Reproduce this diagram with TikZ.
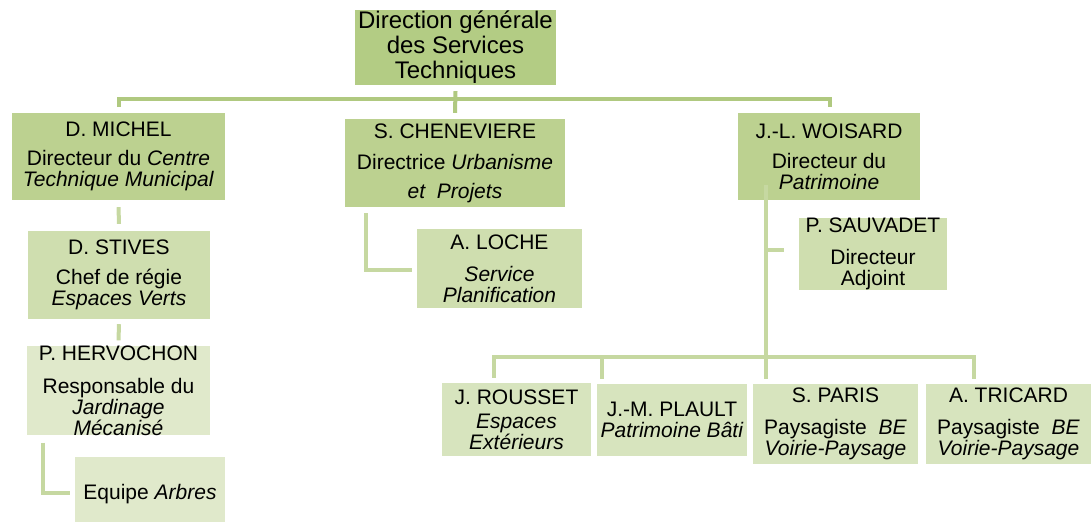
\documentclass[tikz,border=0pt]{standalone}
\usepackage{fontspec}
\setmainfont{Liberation Sans}
\usetikzlibrary{calc}
\definecolor{gTop}{HTML}{B3CC84}
\definecolor{gTwo}{HTML}{BCD190}
\definecolor{gThree}{HTML}{CFDEAF}
\definecolor{gFour}{HTML}{E0E9CB}
\definecolor{gFive}{HTML}{D7E4BE}
\definecolor{cTop}{HTML}{B0C980}
\definecolor{cLine}{HTML}{C6D8A1}
\tikzset{
  box/.style={fill=#1, inner sep=0pt, align=center, text=black,
    font=\fontsize{21}{21}\selectfont},
  topconn/.style={draw=cTop, line width=4pt},
  conn/.style={draw=cLine, line width=4pt},
}
\begin{document}
\begin{tikzpicture}[x=1pt,y=-1pt]
\useasboundingbox (0,0) rectangle (1092,522);
% boxes
\node[box=gTop, minimum width=201pt, minimum height=75pt, font=\fontsize{24}{25}\selectfont] (dg) at (455.5,47.5) {Direction générale\\des Services\\Techniques};
\node[box=gTwo, minimum width=213pt, minimum height=87pt] (michel) at (118.5,156.5) {D. MICHEL\\[8pt]Directeur du \textit{Centre}\\\textit{Technique Municipal}};
\node[box=gTwo, minimum width=220pt, minimum height=88pt] (chen) at (455,163) {S. CHENEVIERE\\[10pt]Directrice \textit{Urbanisme}\\[8pt]\textit{et\ \ Projets}};
\node[box=gTwo, minimum width=182pt, minimum height=87pt] (wois) at (829,156.5) {J.-L. WOISARD\\[9pt]Directeur du\\\textit{Patrimoine}};
\node[box=gThree, minimum width=182pt, minimum height=88pt] (stives) at (119,275) {D. STIVES\\[9pt]Chef de régie\\\textit{Espaces Verts}};
\node[box=gFour, minimum width=183pt, minimum height=89pt] (herv) at (118.5,390.5) {P. HERVOCHON\\[12pt]Responsable du\\\textit{Jardinage}\\\textit{Mécanisé}};
\node[box=gFour, minimum width=150pt, minimum height=65pt] (equipe) at (150,489.5) {\raisebox{-5pt}[\height][\depth]{Equipe \textit{Arbres}}};
\node[box=gThree, minimum width=165pt, minimum height=79pt] (loche) at (499.5,268.5) {A. LOCHE\\[11pt]\textit{Service}\\\textit{Planification}};
\node[box=gThree, minimum width=148pt, minimum height=72pt] (sauv) at (873,254) {P. SAUVADET\\[11pt]Directeur\\Adjoint};
\node[box=gFive, minimum width=149pt, minimum height=73pt] (rousset) at (516.5,419.5) {J. ROUSSET\\[3pt]\textit{Espaces}\\\textit{Extérieurs}};
\node[box=gFive, minimum width=150pt, minimum height=72pt] (plault) at (672,420) {J.-M. PLAULT\\\textit{Patrimoine Bâti}};
\node[box=gFive, minimum width=165pt, minimum height=80pt] (paris) at (835.5,424) {S. PARIS\\[11pt]Paysagiste\ \ \textit{BE}\\\textit{Voirie-Paysage}};
\node[box=gFive, minimum width=165pt, minimum height=80pt] (tricard) at (1008.5,424) {A. TRICARD\\[11pt]Paysagiste\ \ \textit{BE}\\\textit{Voirie-Paysage}};
% top level connectors
\coordinate (bar) at (455.5,99);
\draw[topconn] ([yshift=6pt]michel.north) |- (bar) -| ([xshift=1pt,yshift=6pt]wois.north);
\draw[topconn] ([yshift=-6pt]dg.south) -- ([yshift=6pt]chen.north);
% left column
\draw[conn] ([yshift=-7pt]michel.south) -- ([yshift=7pt]stives.north);
\draw[conn] ([yshift=-5pt]stives.south) -- ([yshift=5pt]herv.north);
\draw[conn] ([xshift=-75.5pt,yshift=-7pt]herv.south) |- ([xshift=-5pt,yshift=-3.5pt]equipe.west);
% middle
\draw[conn] ([xshift=-89pt,yshift=-6pt]chen.south) |- ([xshift=-5pt,yshift=-1.5pt]loche.west);
% right
\coordinate (wtop) at ([xshift=-63pt,yshift=15pt]wois.south);
\coordinate (bbar) at (766,357);
\coordinate (sv) at ([xshift=-15pt,yshift=4pt]sauv.west);
\draw[conn] (wtop) -- ([xshift=-69.5pt,yshift=5pt]paris.north);
\draw[conn] (sv) -- (sv -| wtop);
\draw[conn] ([xshift=-22.5pt,yshift=5pt]rousset.north) |- (bbar) -| ([xshift=-34.5pt,yshift=5pt]tricard.north);
\draw[conn] ([xshift=-70pt,yshift=5pt]plault.north) |- (bbar);
\end{tikzpicture}
\end{document}
